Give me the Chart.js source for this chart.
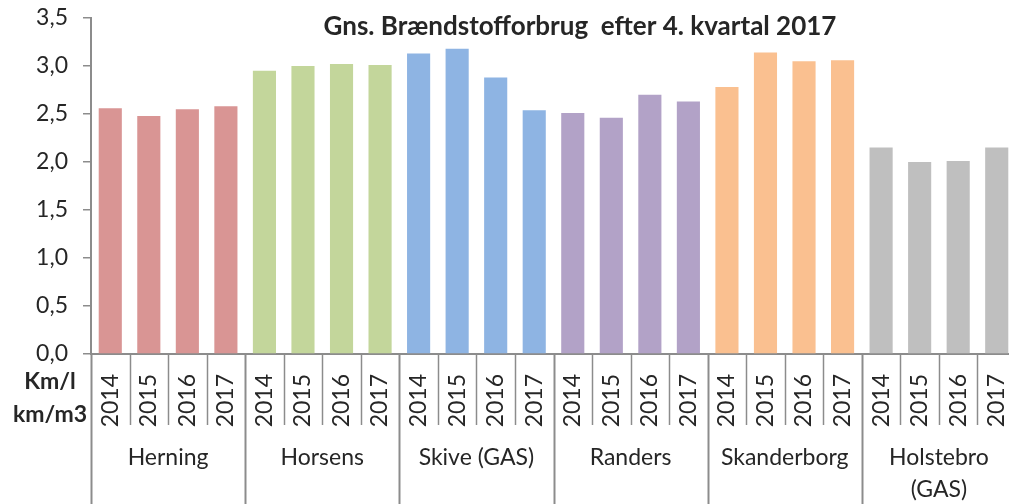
<!DOCTYPE html>
<html>
<head>
<meta charset="utf-8">
<script src="https://cdn.jsdelivr.net/npm/chart.js@4/dist/chart.umd.min.js"></script>
<style>
  html, body { margin: 0; padding: 0; background: #fff; overflow: hidden; }
  #wrap { width: 1018px; height: 504px; position: relative; }
</style>
</head>
<body>
<div id="wrap"><canvas id="chart"></canvas></div>
<script>
/* ── data ─────────────────────────────────────────────── */
const YEARS  = ['2014', '2015', '2016', '2017'];
const GROUPS = ['Herning', 'Horsens', 'Skive (GAS)', 'Randers', 'Skanderborg', ['Holstebro', '(GAS)']];

const herning     = [2.56, 2.48, 2.55, 2.58];
const horsens     = [2.95, 3.00, 3.02, 3.01];
const skive       = [3.13, 3.18, 2.88, 2.54];
const randers     = [2.51, 2.46, 2.70, 2.63];
const skanderborg = [2.78, 3.14, 3.05, 3.06];
const holstebro   = [2.15, 2.00, 2.01, 2.15];

const GROUP_COLORS = ['#D99594', '#C3D69B', '#8EB4E3', '#B2A2C7', '#FAC090', '#BFBFBF'];

const Y_TICKS = [0, 0.5, 1, 1.5, 2, 2.5, 3, 3.5];
const TITLE   = 'Gns. Brændstofforbrug  efter 4. kvartal 2017';
const UNIT_LABELS = ['Km/l', 'km/m3'];

/* ── build ────────────────────────────────────────────── */
const series = [herning, horsens, skive, randers, skanderborg, holstebro];
const labels = [];
const values = [];
const colors = [];
series.forEach((s, g) => {
  s.forEach((v, i) => {
    labels.push(YEARS[i]);
    values.push(v);
    colors.push(GROUP_COLORS[g]);
  });
});

const FONT  = 'Lato, "Open Sans", sans-serif';
const AXIS  = '#8c8c8c';
const TEXT  = '#262626';

/* draws group separators, group names, unit label and title */
const decorations = {
  id: 'decorations',
  afterDraw(chart) {
    const { ctx, chartArea } = chart;
    const x = chart.scales.x;
    const bottom = chart.height;
    const axisY = chartArea.bottom;
    const step = x.getPixelForValue(1) - x.getPixelForValue(0);
    const n = labels.length;

    ctx.save();
    ctx.strokeStyle = AXIS;

    // separators between categories
    for (let i = 0; i <= n; i++) {
      const px = Math.round(x.getPixelForValue(0) - step / 2 + i * step) + 0.5;
      const isGroup = i % YEARS.length === 0;
      ctx.lineWidth = isGroup ? 2 : 1.5;
      ctx.beginPath();
      ctx.moveTo(px, axisY);
      ctx.lineTo(px, isGroup ? bottom : axisY + 71);
      ctx.stroke();
    }

    // group names
    ctx.fillStyle = TEXT;
    ctx.font = '23px ' + FONT;
    ctx.textAlign = 'center';
    ctx.textBaseline = 'middle';
    GROUPS.forEach((g, gi) => {
      const cx = (x.getPixelForValue(gi * 4) + x.getPixelForValue(gi * 4 + 3)) / 2;
      const lines = Array.isArray(g) ? g : [g];
      lines.forEach((t, li) => ctx.fillText(t, cx, axisY + 104 + li * 32));
    });

    // unit label
    ctx.font = 'bold 23px ' + FONT;
    ctx.fillText(UNIT_LABELS[0], 50, axisY + 28);
    ctx.fillText(UNIT_LABELS[1], 50, axisY + 61);

    // title
    ctx.font = 'bold 26px ' + FONT;
    ctx.fillText(TITLE, 580, 27);
    ctx.restore();
  }
};

new Chart(document.getElementById('chart'), {
  type: 'bar',
  data: {
    labels,
    datasets: [{
      data: values,
      backgroundColor: colors,
      borderWidth: 0,
      categoryPercentage: 1,
      barPercentage: 0.6,
    }],
  },
  options: {
    responsive: true,
    maintainAspectRatio: false,
    animation: false,
    layout: { padding: { top: 18, right: 2, left: 0, bottom: 0 } },
    plugins: { legend: { display: false }, tooltip: { enabled: false } },
    scales: {
      x: {
        grid: { display: false, drawTicks: false },
        border: { color: AXIS, width: 2 },
        ticks: {
          minRotation: 90, maxRotation: 90, padding: 20,
          color: TEXT, font: { family: FONT, size: 23 },
          autoSkip: false,
        },
        afterFit: s => {
          s.height = 150;
          s.paddingLeft = 0;
          s.paddingRight = 0;
        },
      },
      y: {
        min: 0, max: 3.5,
        afterBuildTicks: s => { s.ticks = Y_TICKS.map(v => ({ value: v })); },
        grid: { drawOnChartArea: false, tickLength: 8, color: AXIS, lineWidth: 1.5 },
        border: { color: AXIS, width: 2 },
        ticks: {
          padding: 15, color: TEXT, font: { family: FONT, size: 23 },
          callback: v => v.toFixed(1).replace('.', ','),
        },
        afterFit: s => {
          s.width = 91;
          s.paddingTop = 0;
          s.paddingBottom = 0;
        },
      },
    },
  },
  plugins: [decorations],
});
</script>
</body>
</html>
